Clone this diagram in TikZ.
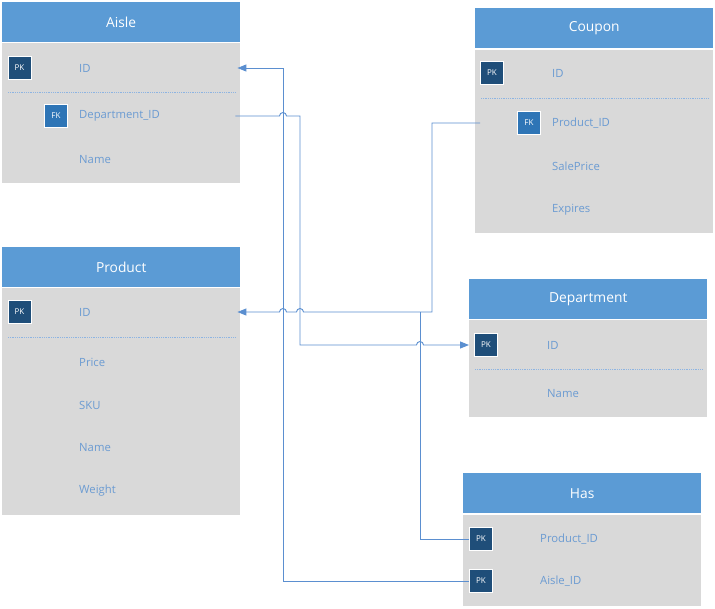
\documentclass[tikz,border=0pt]{standalone}
\usepackage{fontspec}
\setmainfont{Open Sans}
\usetikzlibrary{arrows.meta,calc}
\definecolor{hdrblue}{HTML}{5B9BD5}
\definecolor{bodygrey}{HTML}{D9D9D9}
\definecolor{pkblue}{HTML}{1F4E79}
\definecolor{fkblue}{HTML}{2E75B6}
\definecolor{fieldblue}{HTML}{6B9BD2}
\definecolor{sepblue}{HTML}{8DB4E2}
\definecolor{linkblue}{HTML}{5B8FD0}

\begin{document}
\begin{tikzpicture}[x=1pt,y=-1pt,
  hdr/.style={anchor=north west, fill=hdrblue, text=white, minimum width=238pt,
    minimum height=40pt, inner sep=0pt, font=\fontsize{13.8}{15}\selectfont},
  tblbody/.style={anchor=north west, fill=bodygrey, minimum width=238pt, inner sep=0pt},
  keybox/.style={minimum size=23pt, inner sep=0pt, draw=white, line width=1pt,
    text=white, font=\fontsize{8}{9}\selectfont},
  pkbox/.style={keybox, fill=pkblue},
  fkbox/.style={keybox, fill=fkblue},
  field/.style={anchor=west, inner sep=0pt, text=fieldblue, font=\fontsize{11.3}{12}\selectfont},
  sep/.style={sepblue, line width=0.8pt, dash pattern=on 1pt off 0.8pt},
  hdrline/.style={white, line width=1pt},
  link/.style={linkblue, line width=0.9pt},
  tip/.style={-{Triangle[length=9pt,width=7pt]}}
]
\useasboundingbox[fill=white] (0,0) rectangle (715,608);

% ---------- Aisle ----------
\node[tblbody, minimum height=141pt] (aisle-body) at (2,42) {};
\node[hdr] (aisle) at (2,2) {Aisle};
\draw[hdrline] (aisle-body.north west) -- (aisle-body.north east);
\node[pkbox] (aisle-pk) at (19.5,68) {PK};
\node[field] (aisle-id) at (79,68) {ID};
\draw[sep] (8,92) -- (235,92);
\node[fkbox] (aisle-fk) at (56,116) {FK};
\node[field] (aisle-dept) at (79,116) {Department\_ID};
\node[field] (aisle-name) at (79,160) {Name};

% ---------- Product ----------
\node[tblbody, minimum height=228pt] (product-body) at (2,287) {};
\node[hdr] (product) at (2,247) {Product};
\draw[hdrline] (product-body.north west) -- (product-body.north east);
\node[pkbox] (product-pk) at (19.5,312) {PK};
\node[field] (product-id) at (79,312) {ID};
\draw[sep] (8,337) -- (235,337);
\node[field] (product-price) at (79,362) {Price};
\node[field] (product-sku) at (79,405) {SKU};
\node[field] (product-name) at (79,448) {Name};
\node[field] (product-weight) at (79,491) {Weight};

% ---------- Coupon ----------
\node[tblbody, minimum height=184pt] (coupon-body) at (475,49) {};
\node[hdr] (coupon) at (475,8) {Coupon};
\draw[hdrline] (coupon-body.north west) -- (coupon-body.north east);
\node[pkbox] (coupon-pk) at (492,73) {PK};
\node[field] (coupon-id) at (552,73) {ID};
\draw[sep] (481,98) -- (708,98);
\node[fkbox] (coupon-fk) at (529,123) {FK};
\node[field] (coupon-prod) at (552,123) {Product\_ID};
\node[field] (coupon-price) at (552,166) {SalePrice};
\node[field] (coupon-exp) at (552,210) {Expires};

% ---------- Department ----------
\node[tblbody, minimum height=98pt] (dept-body) at (469,319) {};
\node[hdr] (dept) at (469,279) {Department};
\draw[hdrline] (dept-body.north west) -- (dept-body.north east);
\node[pkbox] (dept-pk) at (486,345) {PK};
\node[field] (dept-id) at (547,345) {ID};
\draw[sep] (475,369) -- (702,369);
\node[field] (dept-name) at (547,394) {Name};

% ---------- Has ----------
\node[tblbody, minimum height=92pt] (has-body) at (463,514) {};
\node[hdr] (has) at (463,473) {Has};
\draw[hdrline] (has-body.north west) -- (has-body.north east);
\node[pkbox] (has-prod-pk) at (481,539) {PK};
\node[field] (has-prod) at (540,539) {Product\_ID};
\node[pkbox] (has-aisle-pk) at (481,581) {PK};
\node[field] (has-aisle) at (540,581) {Aisle\_ID};

% ---------- connector end points ----------
\coordinate (aisle-id-in) at ($(aisle-body.east |- aisle-id)+(-3,0)$);
\coordinate (aisle-dept-out) at ($(aisle-body.east |- aisle-dept)+(-5,0)$);
\coordinate (product-id-in) at ($(product-body.east |- product-id)+(-3,0)$);
\coordinate (coupon-fk-out) at ($(coupon-body.west |- coupon-fk)+(5,0)$);
\coordinate (dept-id-in) at (dept-body.west |- dept-pk);

% ---------- relationships (with line hops) ----------
% Has.Aisle_ID -> Aisle.ID
\draw[link,tip] (has-aisle-pk.west) -- (283,581) -- (283,68) -- (aisle-id-in);
% Aisle.Department_ID -> Department.ID
\draw[link,tip] (aisle-dept-out) -- (279.5,116)
  arc[start angle=180, end angle=360, radius=3.5] -- (300,116) -- (300,345)
  -- (416.5,345) arc[start angle=180, end angle=360, radius=3.5] -- (dept-id-in);
% Coupon.Product_ID -> Product.ID
\draw[link,tip] (coupon-fk-out) -- (432,123) -- (432,312) -- (303.5,312)
  arc[start angle=0, end angle=-180, radius=3.5] -- (286.5,312)
  arc[start angle=0, end angle=-180, radius=3.5] -- (product-id-in);
% Has.Product_ID joins the Product.ID line
\draw[link] (has-prod-pk.west) -- (420,539) -- (420,312);
\end{tikzpicture}
\end{document}
